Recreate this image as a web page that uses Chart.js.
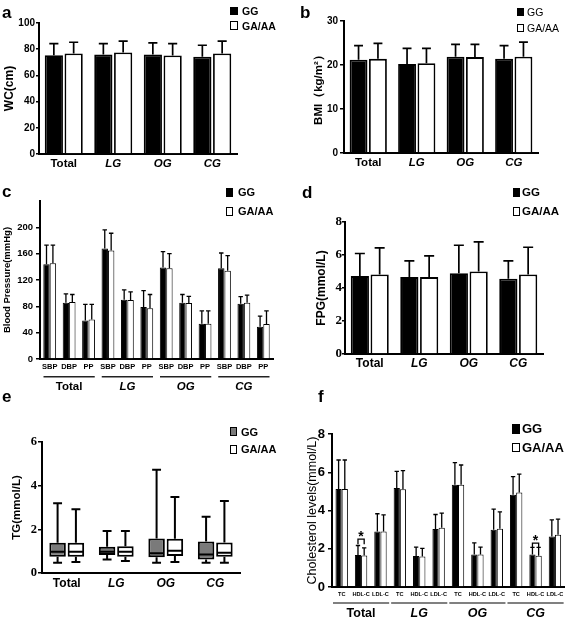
<!DOCTYPE html>
<html>
<head>
<meta charset="utf-8">
<script src="https://cdn.jsdelivr.net/npm/chart.js@4.4.0/dist/chart.umd.min.js"></script>
<style>
  body { margin: 0; background: #fff; }
  #page { position: relative; width: 567px; height: 620px; overflow: hidden; font-family: 'Liberation Sans', Arial, sans-serif; color: #000; }
  canvas { position: absolute; }
  .tag { position: absolute; font-size: 17px; font-weight: bold; line-height: 17px; }
  .key { position: absolute; font-weight: bold; white-space: nowrap; }
  .sq { position: absolute; box-sizing: border-box; border: 1.3px solid #000; }
</style>
</head>
<body>
<div id="page">
  <canvas id="cA" width="283" height="200" style="left:0;top:0"></canvas>
  <canvas id="cB" width="282" height="200" style="left:285px;top:0"></canvas>
  <canvas id="cC" width="283" height="215" style="left:0;top:190px"></canvas>
  <canvas id="cD" width="282" height="210" style="left:285px;top:190px"></canvas>
  <canvas id="cE" width="283" height="200" style="left:0;top:420px"></canvas>
  <canvas id="cF" width="282" height="200" style="left:285px;top:420px"></canvas>

  <div class="tag" style="left:2px;top:3.6px">a</div>
  <div class="tag" style="left:300px;top:3.6px">b</div>
  <div class="tag" style="left:2px;top:182.6px">c</div>
  <div class="tag" style="left:302px;top:183.6px">d</div>
  <div class="tag" style="left:2px;top:387.6px">e</div>
  <div class="tag" style="left:318px;top:387.6px">f</div>

  <!-- legends -->
  <div class="sq" style="left:230px;top:7px;width:8px;height:8px;background:#000"></div>
  <div class="key" style="left:242px;top:5.75px;font-size:10.5px;line-height:10.5px">GG</div>
  <div class="sq" style="left:230px;top:21px;width:8px;height:9px;background:#fff"></div>
  <div class="key" style="left:242px;top:20.75px;font-size:10.5px;line-height:10.5px">GA/AA</div>

  <div class="sq" style="left:517px;top:8px;width:7px;height:8px;background:#000"></div>
  <div class="key" style="left:527px;top:6.75px;font-size:10.5px;line-height:10.5px;font-weight:normal">GG</div>
  <div class="sq" style="left:517px;top:24px;width:7px;height:8px;background:#fff"></div>
  <div class="key" style="left:527px;top:22.75px;font-size:10.5px;line-height:10.5px;font-weight:normal">GA/AA</div>

  <div class="sq" style="left:226px;top:188px;width:7px;height:9px;background:#000"></div>
  <div class="key" style="left:238px;top:187px;font-size:11px;line-height:11px">GG</div>
  <div class="sq" style="left:226px;top:207px;width:7px;height:9px;background:#fff"></div>
  <div class="key" style="left:238px;top:206px;font-size:11px;line-height:11px">GA/AA</div>

  <div class="sq" style="left:513px;top:188px;width:7px;height:9px;background:#000"></div>
  <div class="key" style="left:522px;top:186.75px;font-size:11.5px;line-height:11.5px">GG</div>
  <div class="sq" style="left:513px;top:207px;width:7px;height:9px;background:#fff"></div>
  <div class="key" style="left:522px;top:206.25px;font-size:11.5px;line-height:11.5px">GA/AA</div>

  <div class="sq" style="left:230px;top:427px;width:7px;height:9px;background:#7a7a7a"></div>
  <div class="key" style="left:241px;top:426.5px;font-size:11px;line-height:11px">GG</div>
  <div class="sq" style="left:230px;top:445px;width:7px;height:9px;background:#fff"></div>
  <div class="key" style="left:241px;top:443.5px;font-size:11px;line-height:11px">GA/AA</div>

  <div class="sq" style="left:512px;top:424px;width:8px;height:10px;background:#000"></div>
  <div class="key" style="left:522px;top:422px;font-size:13px;line-height:13px">GG</div>
  <div class="sq" style="left:512px;top:443px;width:8px;height:9px;background:#fff"></div>
  <div class="key" style="left:522px;top:440.5px;font-size:13px;line-height:13px">GA/AA</div>
</div>

<script>
// groups
const groups = ['Total', 'LG', 'OG', 'CG'];

// a: waist circumference (mean, sd)
const wcGG = [75.4, 75.9, 75.9, 74.2];
const wcGGsd = [8.9, 8.4, 8.9, 8.8];
const wcGA = [76.7, 77.5, 75.2, 76.7];
const wcGAsd = [8.6, 8.6, 9.1, 9.4];

// b: BMI
const bmiGG = [21.2, 20.2, 21.9, 21.4];
const bmiGGsd = [3.2, 3.6, 2.8, 3.0];
const bmiGA = [21.4, 20.4, 21.8, 21.9];
const bmiGAsd = [3.5, 3.4, 2.9, 3.3];

// c: blood pressure, SBP / DBP / PP per group
const bpLabels = ['SBP', 'DBP', 'PP', 'SBP', 'DBP', 'PP', 'SBP', 'DBP', 'PP', 'SBP', 'DBP', 'PP'];
const bpGG = [144, 85.5, 58.5, 168, 90, 79, 139, 85.5, 53.5, 138, 84, 49];
const bpGGsd = [29, 13.5, 24.5, 28, 15, 25, 24, 12.5, 19.5, 23, 10.6, 16];
const bpGA = [145.5, 86.5, 60, 165, 89.5, 77, 138, 85, 53.5, 134, 85.5, 53];
const bpGAsd = [27.5, 11.5, 23, 26, 12.5, 21, 22, 10, 19.5, 23, 11.5, 20];

// d: FPG
const fpgGG = [4.72, 4.66, 4.9, 4.56];
const fpgGGsd = [1.37, 0.99, 1.69, 1.09];
const fpgGA = [4.82, 4.66, 5.0, 4.82];
const fpgGAsd = [1.61, 1.29, 1.8, 1.65];

// e: TG box plots (min, q1, median, q3, max)
const tgGGmin = [0.47, 0.62, 0.47, 0.47];
const tgGGq1 = [0.75, 0.82, 0.72, 0.62];
const tgGGmed = [0.97, 0.97, 0.9, 0.85];
const tgGGq3 = [1.38, 1.2, 1.58, 1.44];
const tgGGmax = [3.2, 1.92, 4.73, 2.58];
const tgGAmin = [0.5, 0.55, 0.5, 0.47];
const tgGAq1 = [0.75, 0.75, 0.78, 0.75];
const tgGAmed = [0.97, 0.97, 1.02, 0.93];
const tgGAq3 = [1.38, 1.23, 1.57, 1.4];
const tgGAmax = [2.92, 1.92, 3.48, 3.3];

// f: cholesterol, TC / HDL-C / LDL-C per group
const cholLabels = ['TC', 'HDL-C', 'LDL-C', 'TC', 'HDL-C', 'LDL-C', 'TC', 'HDL-C', 'LDL-C', 'TC', 'HDL-C', 'LDL-C'];
const cholGG = [5.13, 1.67, 2.9, 5.17, 1.62, 3.03, 5.34, 1.7, 3.0, 4.83, 1.7, 2.64];
const cholGGsd = [1.51, 0.5, 0.93, 0.88, 0.47, 0.76, 1.16, 0.61, 1.07, 0.94, 0.37, 0.87];
const cholGA = [5.13, 1.65, 2.9, 5.11, 1.6, 3.1, 5.34, 1.7, 3.04, 4.94, 1.63, 2.73];
const cholGAsd = [1.51, 0.4, 0.87, 0.98, 0.42, 0.76, 1.04, 0.39, 0.89, 0.96, 0.44, 0.82];
// significance marks: category index, bracket height, leg bottom
const starIdx = [1, 10];
const starY = [2.5, 2.29];
const starLeg = [2.24, 2.08];

const SANS = "'Liberation Sans', Arial, sans-serif";
const SERIF = "'Liberation Serif', 'Times New Roman', serif";

// error bars (upper only)
const errorBarPlugin = {
  id: 'errorBars',
  afterDatasetsDraw(chart, args, o) {
    if (!o.lw) return;
    const ctx = chart.ctx, y = chart.scales.y;
    chart.data.datasets.forEach((ds, i) => {
      if (!ds.sd) return;
      chart.getDatasetMeta(i).data.forEach((bar, j) => {
        const top = y.getPixelForValue(ds.data[j] + ds.sd[j]);
        const cw = bar.width * o.cap / 2;
        ctx.save();
        ctx.strokeStyle = '#000';
        ctx.lineWidth = o.lw;
        ctx.beginPath();
        ctx.moveTo(bar.x, bar.y);
        ctx.lineTo(bar.x, top);
        ctx.moveTo(bar.x - cw, top);
        ctx.lineTo(bar.x + cw, top);
        ctx.stroke();
        ctx.restore();
      });
    });
  }
};

// group underline + name below sub-category labels
const groupPlugin = {
  id: 'groupAxis',
  afterDraw(chart, args, o) {
    if (!o.names) return;
    const ctx = chart.ctx, x = chart.scales.x, bottom = chart.chartArea.bottom;
    const step = x.getPixelForValue(1) - x.getPixelForValue(0);
    ctx.save();
    o.names.forEach((g, k) => {
      const a = x.getPixelForValue(k * o.per) - step / 2 + o.inset;
      const b = x.getPixelForValue(k * o.per + o.per - 1) + step / 2 - o.inset;
      ctx.strokeStyle = o.color;
      ctx.lineWidth = o.lw;
      ctx.beginPath();
      ctx.moveTo(a, bottom + o.lineY);
      ctx.lineTo(b, bottom + o.lineY);
      ctx.stroke();
      ctx.fillStyle = '#000';
      ctx.font = (k > 0 ? 'italic ' : '') + 'bold ' + o.size + 'px ' + SANS;
      ctx.textAlign = 'center';
      ctx.textBaseline = 'middle';
      ctx.fillText(g, (a + b) / 2, bottom + o.labelY);
    });
    ctx.restore();
  }
};

// significance bracket and star
const starPlugin = {
  id: 'sigStars',
  afterDatasetsDraw(chart, args, o) {
    if (!o.idx) return;
    const ctx = chart.ctx, y = chart.scales.y;
    o.idx.forEach((c, k) => {
      const b0 = chart.getDatasetMeta(0).data[c];
      const b1 = chart.getDatasetMeta(1).data[c];
      const yt = y.getPixelForValue(o.top[k]);
      const yl = y.getPixelForValue(o.leg[k]);
      ctx.save();
      ctx.strokeStyle = '#000';
      ctx.lineWidth = 1.3;
      ctx.beginPath();
      ctx.moveTo(b0.x, yl);
      ctx.lineTo(b0.x, yt);
      ctx.lineTo(b1.x, yt);
      ctx.lineTo(b1.x, yl);
      ctx.stroke();
      ctx.fillStyle = '#000';
      ctx.font = 'bold 14px ' + SANS;
      ctx.textAlign = 'center';
      ctx.textBaseline = 'alphabetic';
      ctx.fillText('*', (b0.x + b1.x) / 2, yt + 2);
      ctx.restore();
    });
  }
};

// whiskers and medians for floating-bar boxes
const boxPlugin = {
  id: 'boxWhisk',
  afterDatasetsDraw(chart) {
    const ctx = chart.ctx, y = chart.scales.y;
    chart.data.datasets.forEach((ds, i) => {
      if (!ds.med) return;
      chart.getDatasetMeta(i).data.forEach((bar, j) => {
        const hw = bar.width / 2, cw = bar.width * 0.27;
        const pHi = y.getPixelForValue(ds.hi[j]), pLo = y.getPixelForValue(ds.lo[j]);
        const pQ3 = y.getPixelForValue(ds.data[j][1]), pQ1 = y.getPixelForValue(ds.data[j][0]);
        const pMed = y.getPixelForValue(ds.med[j]);
        ctx.save();
        ctx.strokeStyle = '#000';
        ctx.lineWidth = 2;
        ctx.beginPath();
        ctx.moveTo(bar.x, pQ3); ctx.lineTo(bar.x, pHi);
        ctx.moveTo(bar.x - cw, pHi); ctx.lineTo(bar.x + cw, pHi);
        ctx.moveTo(bar.x, pQ1); ctx.lineTo(bar.x, pLo);
        ctx.moveTo(bar.x - cw, pLo); ctx.lineTo(bar.x + cw, pLo);
        ctx.moveTo(bar.x - hw + 1, pMed); ctx.lineTo(bar.x + hw - 1, pMed);
        ctx.stroke();
        ctx.restore();
      });
    });
  }
};

Chart.register(errorBarPlugin, groupPlugin, starPlugin, boxPlugin);

function yScale(o) {
  const s = {
    min: 0,
    max: o.max,
    ticks: { stepSize: o.step, padding: o.pad, color: '#000', font: o.font },
    grid: { drawOnChartArea: false, color: '#000', lineWidth: 1.5, tickLength: o.tl },
    border: { color: '#000', width: 2 },
    title: { display: true, text: o.title, color: '#000', font: o.titleFont, padding: 0 },
    afterFit: sc => { sc.width = o.width; }
  };
  if (o.cut) s.afterBuildTicks = sc => { sc.ticks = sc.ticks.filter(t => t.value <= o.cut); };
  return s;
}

function xScale(o) {
  return {
    ticks: { padding: o.pad, color: '#000', font: o.font, autoSkip: false, maxRotation: 0, minRotation: 0 },
    grid: { display: false, drawTicks: false },
    border: { color: '#000', width: 2 },
    afterFit: sc => { sc.height = o.height; }
  };
}

function groupFont(size) {
  return c => ({ family: SANS, size: size, weight: 'bold', style: c.index > 0 ? 'italic' : 'normal' });
}

function makeChart(id, labels, datasets, o) {
  return new Chart(document.getElementById(id), {
    type: 'bar',
    data: { labels: labels, datasets: datasets },
    options: {
      responsive: false,
      animation: false,
      layout: { padding: o.padding },
      datasets: { bar: { categoryPercentage: o.cat, barPercentage: o.bar } },
      scales: { x: o.x, y: o.y },
      plugins: Object.assign({ legend: { display: false }, tooltip: { enabled: false } }, o.plugins || {})
    }
  });
}

function pair(gg, ggsd, ga, gasd, bw) {
  return [
    { data: gg, sd: ggsd, backgroundColor: '#000', borderColor: '#000', borderWidth: bw },
    { data: ga, sd: gasd, backgroundColor: '#fff', borderColor: '#000', borderWidth: bw }
  ];
}

// a
makeChart('cA', groups, pair(wcGG, wcGGsd, wcGA, wcGAsd, 1.8), {
  padding: { left: 2, top: 23, right: 46, bottom: 0 },
  cat: 0.8, bar: 0.92,
  x: xScale({ pad: 3, height: 46, font: groupFont(11.5) }),
  y: yScale({ max: 100, step: 20, pad: 1, tl: 3, width: 37, title: 'WC(cm)',
    font: { family: SANS, size: 10, weight: 'bold' }, titleFont: { family: SANS, size: 12, weight: 'bold' } }),
  plugins: { errorBars: { lw: 1.7, cap: 0.5 } }
});

// b
makeChart('cB', groups, pair(bmiGG, bmiGGsd, bmiGA, bmiGAsd, 1.8), {
  padding: { left: 27, top: 21, right: 29, bottom: 0 },
  cat: 0.8, bar: 0.92,
  x: xScale({ pad: 3, height: 47, font: groupFont(11.5) }),
  y: yScale({ max: 30, step: 10, pad: 2, tl: 4, width: 32, title: 'BMI（kg/m²）',
    font: { family: SANS, size: 10, weight: 'bold' }, titleFont: { family: SANS, size: 11.5, weight: 'bold' } }),
  plugins: { errorBars: { lw: 1.7, cap: 0.5 } }
});

// c
makeChart('cC', bpLabels, pair(bpGG, bpGGsd, bpGA, bpGAsd, 1), {
  padding: { left: 2, top: 11, right: 10, bottom: 0 },
  cat: 0.66, bar: 1.0,
  x: xScale({ pad: 3.5, height: 46, font: { family: SANS, size: 7.5, weight: 'bold' } }),
  y: yScale({ max: 240, step: 40, cut: 200, pad: 3, tl: 4, width: 38, title: 'Blood Pressure(mmHg)',
    font: { family: SANS, size: 9.5, weight: 'bold' }, titleFont: { family: SANS, size: 9.5, weight: 'bold' } }),
  plugins: {
    errorBars: { lw: 1.3, cap: 0.7 },
    groupAxis: { names: groups, per: 3, inset: 3.5, lineY: 17.7, labelY: 28.3, color: '#222', lw: 1.5, size: 11.5 }
  }
});

// d
makeChart('cD', groups, pair(fpgGG, fpgGGsd, fpgGA, fpgGAsd, 1.8), {
  padding: { left: 29, top: 32, right: 24, bottom: 0 },
  cat: 0.8, bar: 0.92,
  x: xScale({ pad: 2.5, height: 46, font: groupFont(12) }),
  y: yScale({ max: 8, step: 2, pad: 0, tl: 3, width: 31, title: 'FPG(mmol/L)',
    font: { family: SERIF, size: 13, weight: 'bold' }, titleFont: { family: SANS, size: 12, weight: 'bold' } }),
  plugins: { errorBars: { lw: 1.7, cap: 0.55 } }
});

// e
makeChart('cE', groups, [
  { data: tgGGq1.map((v, i) => [v, tgGGq3[i]]), med: tgGGmed, lo: tgGGmin, hi: tgGGmax,
    backgroundColor: '#7a7a7a', borderColor: '#000', borderWidth: 2, borderSkipped: false },
  { data: tgGAq1.map((v, i) => [v, tgGAq3[i]]), med: tgGAmed, lo: tgGAmin, hi: tgGAmax,
    backgroundColor: '#fff', borderColor: '#000', borderWidth: 2, borderSkipped: false }
], {
  padding: { left: 10, top: 22, right: 43, bottom: 0 },
  cat: 0.74, bar: 0.9,
  x: xScale({ pad: 3, height: 47, font: groupFont(12) }),
  y: yScale({ max: 6, step: 2, pad: 1, tl: 4, width: 32, title: 'TG(mmol/L)',
    font: { family: SERIF, size: 12.5, weight: 'bold' }, titleFont: { family: SANS, size: 11.5, weight: 'bold' } })
});

// f
makeChart('cF', cholLabels, pair(cholGG, cholGGsd, cholGA, cholGAsd, 1), {
  padding: { left: 20, top: 14, right: 2, bottom: 0 },
  cat: 0.64, bar: 1.0,
  x: xScale({ pad: 3.6, height: 33, font: { family: SANS, size: 5.6, weight: 'bold' } }),
  y: yScale({ max: 8, step: 2, pad: 3, tl: 4, width: 27, title: 'Cholesterol levels(mmol/L)',
    font: { family: SANS, size: 13, weight: 'bold' }, titleFont: { family: SANS, size: 12.5 } }),
  plugins: {
    errorBars: { lw: 1.3, cap: 0.7 },
    groupAxis: { names: groups, per: 3, inset: 1, lineY: 16, labelY: 26.6, color: '#808080', lw: 1.8, size: 12.5 },
    sigStars: { idx: starIdx, top: starY, leg: starLeg }
  }
});
</script>
</body>
</html>
